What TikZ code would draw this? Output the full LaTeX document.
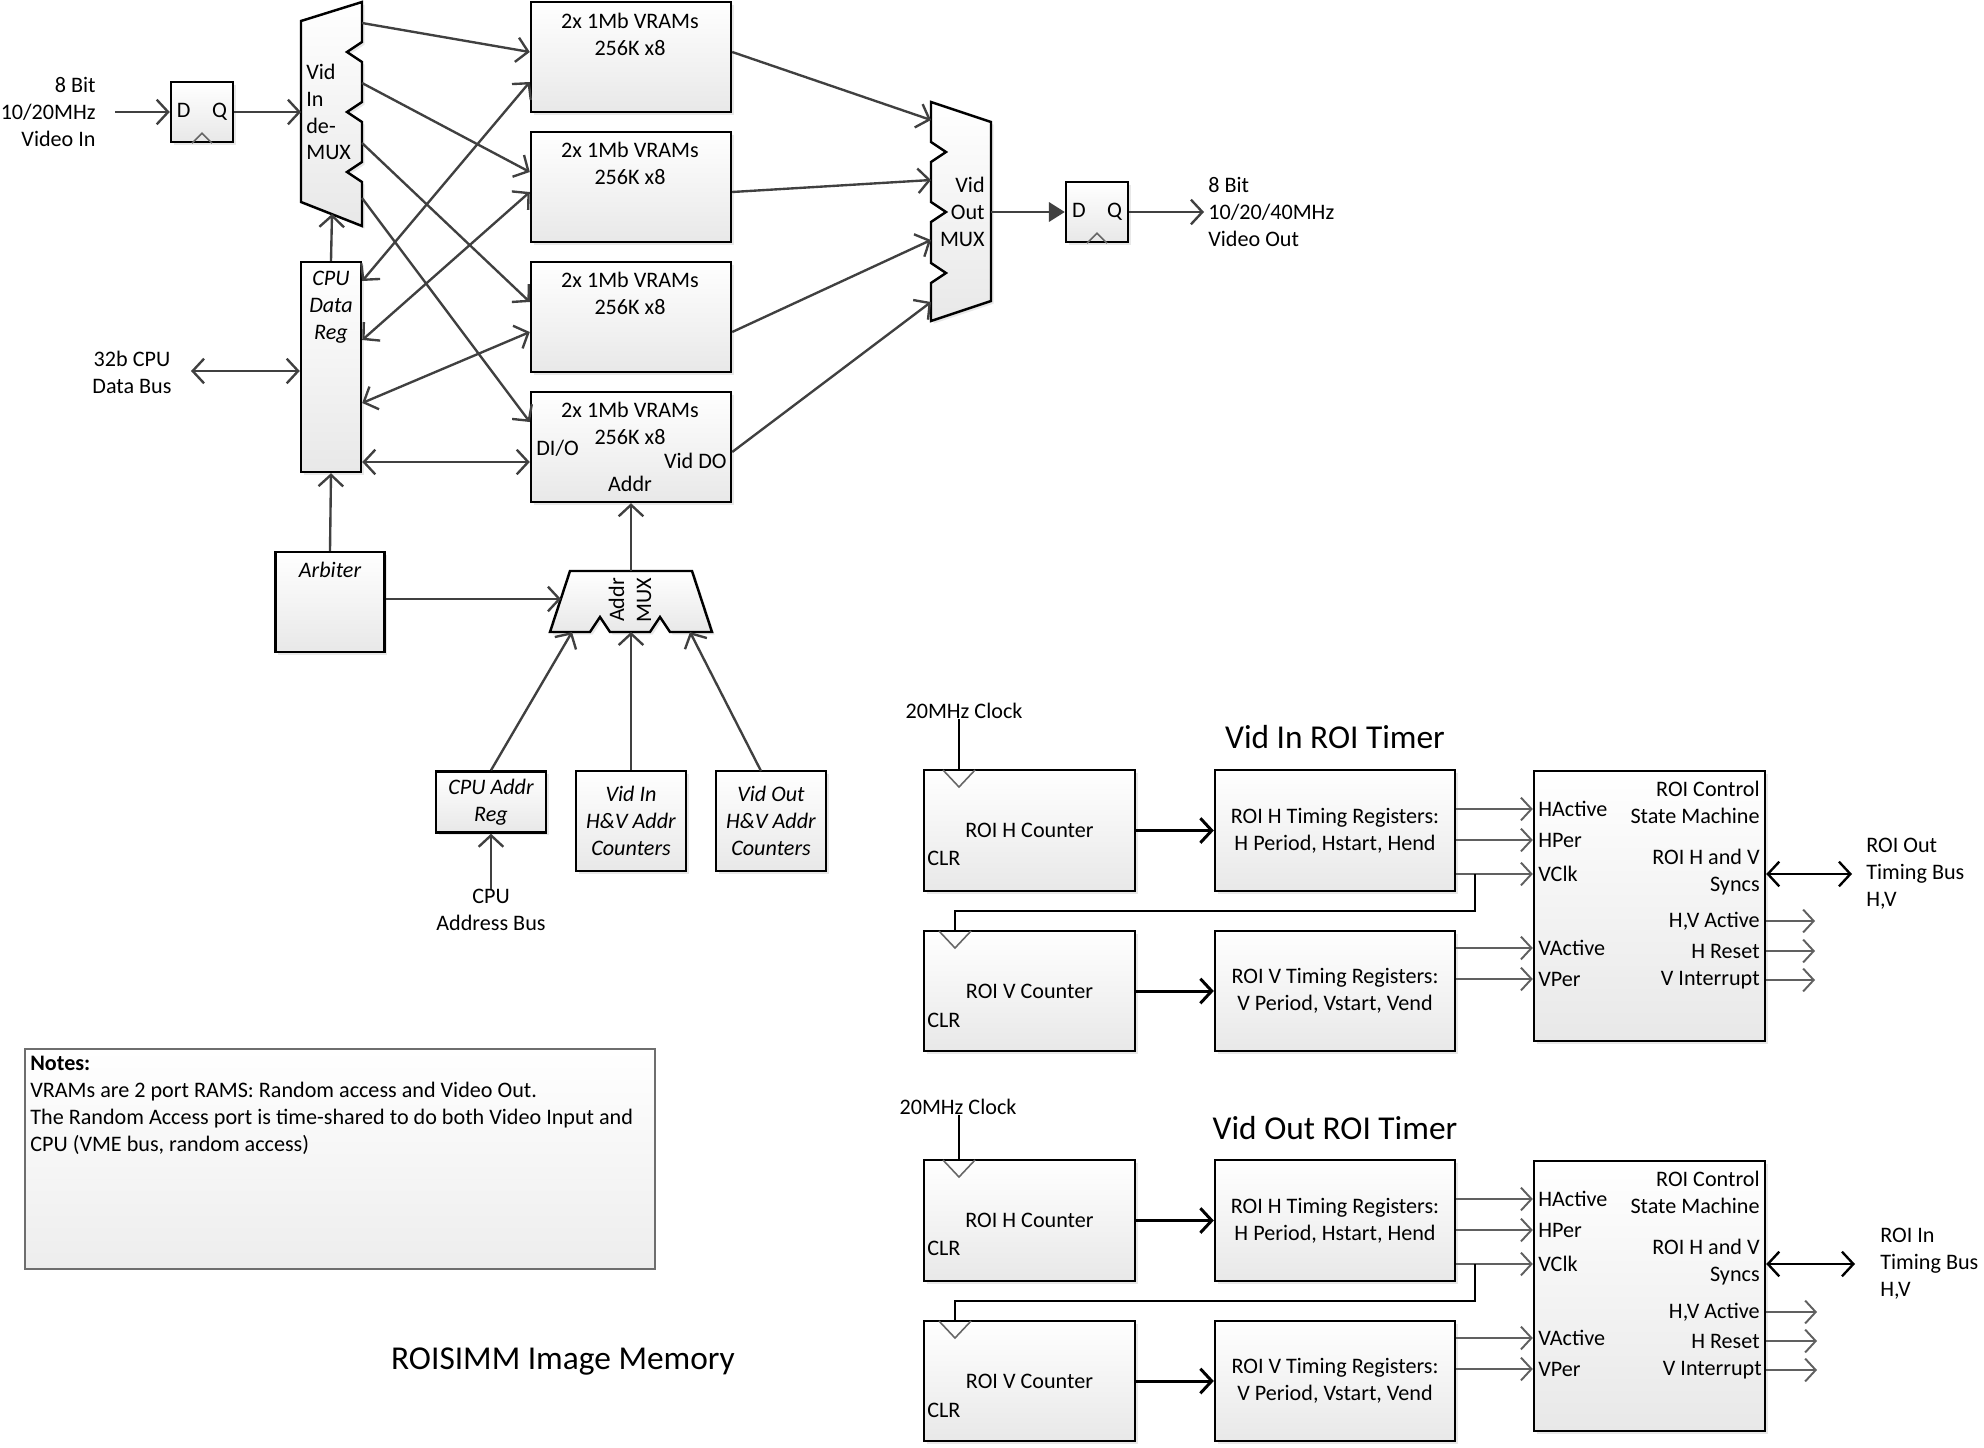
\documentclass[tikz,border=0pt]{standalone}
\usepackage{fontspec}
\setmainfont{Carlito}
\usetikzlibrary{arrows.meta, positioning, calc, shadows}
\definecolor{wiregray}{RGB}{64, 64, 64}
\definecolor{portgray}{RGB}{96, 96, 96}
\definecolor{notegray}{RGB}{110, 110, 110}

\begin{document}
\begin{tikzpicture}[
    x=0.02cm, y=-0.02cm,
    font=\fontsize{12.6}{15.3}\selectfont,
    blk/.style={rectangle, draw=black, line width=1.4pt, top color=white, bottom color=black!9,
                drop shadow={shadow xshift=1.5pt, shadow yshift=-1.5pt, opacity=0.18},
                inner sep=0pt, align=center},
    ff/.style={blk, minimum width=1.24cm, minimum height=1.2cm},
    mux/.style={draw=black, line width=1.4pt, line join=miter, top color=white, bottom color=black!9,
                drop shadow={shadow xshift=1.5pt, shadow yshift=-1.5pt, opacity=0.18}},
    notebox/.style={rectangle, draw=notegray, line width=0.8pt, top color=white, bottom color=black!7},
    lbl/.style={inner sep=0pt, align=center},
    itl/.style={font=\fontsize{12.6}{15.3}\selectfont\itshape},
    ttl/.style={inner sep=0pt, font=\fontsize{19}{22}\selectfont},
    wire/.style={draw=wiregray, line width=1.35pt, -{Straight Barb[length=6.5pt, width=14pt]}},
    bus/.style={draw=wiregray, line width=1.35pt,
                {Straight Barb[length=6.5pt, width=14pt]}-{Straight Barb[length=6.5pt, width=14pt]}},
    fat/.style={draw=black, line width=1.7pt, -{Straight Barb[length=6.5pt, width=14pt]}},
    port/.style={draw=portgray, line width=1.1pt, -{Straight Barb[length=6pt, width=13pt]}},
    fbline/.style={draw=black, line width=1.3pt},
    clkmark/.style={draw=black!60, line width=0.9pt}
]
\useasboundingbox (0,0) rectangle (1984,1447);

%% ── VIDEO INPUT ─────────────────────────────────────────────────────────────
\node[lbl, anchor=east, align=right] (vidin) at (96,112) {8 Bit\\10/20MHz\\Video In};
\coordinate (vinE) at (115,112);
\node[ff] (dff1) at (202,112) {D\hspace{0.43cm}Q};
\draw[clkmark] ($(dff1.south)+(-10,0)$) -- ($(dff1.south)+(0,-10)$) -- ($(dff1.south)+(10,0)$);

% de-MUX
\draw[mux] (301,21) -- (362,2) -- (362,42) -- (347,52) -- (362,62) -- (362,102) -- (347,112)
   -- (362,122) -- (362,162) -- (347,172) -- (362,182) -- (362,226) -- (301,202) -- cycle;
\node[lbl, anchor=west, align=left] (dmxtxt) at (306,112) {Vid\\In\\de-\\MUX};
\coordinate (dmxI)  at (301,112);
\coordinate (dmxO1) at (362,23);
\coordinate (dmxO2) at (362,83);
\coordinate (dmxO3) at (362,143);
\coordinate (dmxO4) at (362,198);
\coordinate (dmxB)  at (332,214);

%% ── VRAM BANKS ──────────────────────────────────────────────────────────────
\node[blk, minimum width=4cm, minimum height=2.2cm] (vram1) at (631,57)  {};
\node[blk, minimum width=4cm, minimum height=2.2cm] (vram2) at (631,187) {};
\node[blk, minimum width=4cm, minimum height=2.2cm] (vram3) at (631,317) {};
\node[blk, minimum width=4cm, minimum height=2.2cm] (vram4) at (631,447) {};
\node[lbl] (vram1t) at (630,34)  {2x 1Mb VRAMs\\256K x8};
\node[lbl] (vram2t) at (630,163) {2x 1Mb VRAMs\\256K x8};
\node[lbl] (vram3t) at (630,293) {2x 1Mb VRAMs\\256K x8};
\node[lbl] (vram4t) at (630,423) {2x 1Mb VRAMs\\256K x8};
\node[lbl, anchor=west] (dio)   at (536,448) {DI/O};
\node[lbl, anchor=east] (viddo) at (727,461) {Vid DO};
\node[lbl]              (vaddr) at (630,484) {Addr};

%% ── CPU SIDE ────────────────────────────────────────────────────────────────
\node[blk, minimum width=1.2cm, minimum height=4.2cm] (cpudata) at (331,367) {};
\node[itl, lbl] (cpudatat) at (331,307) {CPU\\Data\\Reg};
\node[lbl] (cpubus) at (132,372) {32b CPU\\Data Bus};
\coordinate (cpubusE) at (191,371);

\node[blk, minimum width=2.18cm, minimum height=2cm] (arb) at (330,602) {};
\node[itl, lbl] (arbt) at (330,570) {Arbiter};

% Addr MUX
\draw[mux] (570,571) -- (692,571) -- (712,632) -- (670,632) -- (660,617) -- (650,632) -- (610,632)
   -- (600,617) -- (590,632) -- (550,632) -- cycle;
\node[lbl, rotate=90] (amxt) at (630,600) {Addr\\MUX};
\coordinate (amxL)  at (561,599);
\coordinate (amxT)  at (631,571);
\coordinate (amxB1) at (572,632);
\coordinate (amxB2) at (631,632);
\coordinate (amxB3) at (690,632);

\node[blk, itl, minimum width=2.2cm, minimum height=1.22cm] (cpuaddr)    at (491,802) {CPU Addr\\Reg};
\node[blk, itl, minimum width=2.2cm, minimum height=2cm]    (vidinaddr)  at (631,821) {Vid In\\H\&V Addr\\Counters};
\node[blk, itl, minimum width=2.2cm, minimum height=2cm]    (vidoutaddr) at (771,821) {Vid Out\\H\&V Addr\\Counters};
\coordinate (voaT) at (761,771);
\node[lbl] (cpuabus) at (491,910) {CPU\\Address Bus};

%% ── VIDEO OUTPUT ────────────────────────────────────────────────────────────
\draw[mux] (931,102) -- (991,122) -- (991,301) -- (931,321) -- (931,283) -- (946,273) -- (931,263)
   -- (931,222) -- (946,212) -- (931,202) -- (931,162) -- (946,152) -- (931,142) -- cycle;
\node[lbl, anchor=east, align=right] (vomt) at (985,212) {Vid\\Out\\MUX};
\coordinate (vomI1) at (931,120);
\coordinate (vomI2) at (931,180);
\coordinate (vomI3) at (931,240);
\coordinate (vomI4) at (931,302);
\coordinate (vomO)  at (991,212);
\node[ff] (dff2) at (1097,212) {D\hspace{0.43cm}Q};
\draw[clkmark] ($(dff2.south)+(-10,0)$) -- ($(dff2.south)+(0,-10)$) -- ($(dff2.south)+(10,0)$);
\node[lbl, anchor=west, align=left, inner xsep=0.08cm] (vidout) at (1204,212) {8 Bit\\10/20/40MHz\\Video Out};

%% ── Connections ─────────────────────────────────────────────────────────────
\draw[wire] (vinE) -- (dff1.west);
\draw[wire] (dff1.east) -- (dmxI);
\draw[wire] (dmxO1) -- (vram1.west |- 0,52);
\draw[wire] (dmxO2) -- (vram2.west |- 0,172);
\draw[wire] (dmxO3) -- (vram3.west |- 0,302);
\draw[wire] (dmxO4) -- (vram4.west |- 0,422);

\draw[bus] (cpudata.east |- 0,281) -- (vram1.west |- 0,82);
\draw[bus] (cpudata.east |- 0,340) -- (vram2.west |- 0,192);
\draw[bus] (cpudata.east |- 0,403) -- (vram3.west |- 0,332);
\draw[bus] (cpudata.east |- 0,462) -- (vram4.west |- 0,462);
\draw[bus] (cpubusE) -- (cpudata.west |- cpubusE);
\draw[wire] (cpudata.north) -- (dmxB);
\draw[wire] (arb.north) -- (cpudata.south);

\draw[wire] (arb.east |- amxL) -- (amxL);
\draw[wire] (amxT) -- (vram4.south);
\draw[wire] (cpuaddr.north) -- (amxB1);
\draw[wire] (vidinaddr.north) -- (amxB2);
\draw[wire] (voaT) -- (amxB3);
\draw[wire] (cpuabus.north) -- (cpuaddr.south);

\draw[wire] (vram1.east |- 0,52)  -- (vomI1);
\draw[wire] (vram2.east |- 0,192) -- (vomI2);
\draw[wire] (vram3.east |- 0,332) -- (vomI3);
\draw[wire] (vram4.east |- 0,452) -- (vomI4);
\draw[wire, -{Triangle[length=9pt, width=11pt]}] (vomO) -- (dff2.west);
\draw[wire] (dff2.east) -- (vidout.west);

%% ── VID IN ROI TIMER ────────────────────────────────────────────────────────
\begin{scope}
\node[ttl] (ttl1) at (1335,737) {Vid In ROI Timer};
\node[lbl] (clk1) at (964,711) {20MHz Clock};
\node[blk, minimum width=4.22cm, minimum height=2.42cm] (hcnt1) at (1029.5,830.5) {ROI H Counter};
\node[lbl, anchor=west] (hclr1) at (927,858) {CLR};
\node[blk, minimum width=4.8cm, minimum height=2.42cm] (htim1) at (1335,830.5) {ROI H Timing Registers:\\H Period, Hstart, Hend};
\node[blk, minimum width=4.22cm, minimum height=2.4cm] (vcnt1) at (1029.5,991) {ROI V Counter};
\node[lbl, anchor=west] (vclr1) at (927,1020) {CLR};
\node[blk, minimum width=4.8cm, minimum height=2.4cm] (vtim1) at (1335,991) {ROI V Timing Registers:\\V Period, Vstart, Vend};
\node[blk, minimum width=4.62cm, minimum height=5.4cm] (sm1) at (1649.5,906) {};
\node[lbl, anchor=east, align=right] (smt1)   at (1760,802) {ROI Control\\State Machine};
\node[lbl, anchor=east, align=right] (sync1)  at (1760,872) {ROI H and V\\Syncs};
\node[lbl, anchor=east] (hva1)  at (1760,921) {H,V Active};
\node[lbl, anchor=east] (hrst1) at (1760,951) {H Reset};
\node[lbl, anchor=east] (vint1) at (1760,980) {V Interrupt};
\node[lbl, anchor=west] (hact1) at (1538,809) {HActive};
\node[lbl, anchor=west] (hper1) at (1538,840) {HPer};
\node[lbl, anchor=west] (vclk1) at (1538,874) {VClk};
\node[lbl, anchor=west] (vact1) at (1538,948) {VActive};
\node[lbl, anchor=west] (vper1) at (1538,979) {VPer};
\node[lbl, anchor=west, align=left, inner xsep=0.28cm] (roiout1) at (1852,874) {ROI Out\\Timing Bus\\H,V};
\coordinate (hck1) at (959,770);
\coordinate (vck1) at (955,931);
\coordinate (vj1)  at (1475,874);
\coordinate (oE1)  at (1815,0);

\draw[fbline] (clk1.south -| hck1) -- (hck1);
\draw[clkmark] ($(hck1)+(-16,0)$) -- ($(hck1)+(0,17)$) -- ($(hck1)+(16,0)$);
\draw[clkmark] ($(vck1)+(-16,0)$) -- ($(vck1)+(0,17)$) -- ($(vck1)+(16,0)$);
\draw[fat] (hcnt1) -- (htim1);
\draw[fat] (vcnt1) -- (vtim1);
\draw[port] (htim1.east |- hact1) -- (sm1.west |- hact1);
\draw[port] (htim1.east |- hper1) -- (sm1.west |- hper1);
\draw[port] (htim1.east |- vclk1) -- (sm1.west |- vclk1);
\draw[port] (vtim1.east |- vact1) -- (sm1.west |- vact1);
\draw[port] (vtim1.east |- vper1) -- (sm1.west |- vper1);
\draw[fbline] (vj1) |- ($(vck1)+(0,-20)$) -- (vck1);
\draw[port] (sm1.east |- hva1)  -- (oE1 |- hva1);
\draw[port] (sm1.east |- hrst1) -- (oE1 |- hrst1);
\draw[port] (sm1.east |- vint1) -- (oE1 |- vint1);
\draw[bus, draw=black] (sm1.east |- roiout1.west) -- (roiout1.west);
\end{scope}

%% ── VID OUT ROI TIMER ───────────────────────────────────────────────────────
\begin{scope}[shift={(0,390)}]
\node[ttl] (ttl2) at (1335,738) {Vid Out ROI Timer};
\node[lbl] (clk2) at (958,717) {20MHz Clock};
\node[blk, minimum width=4.22cm, minimum height=2.42cm] (hcnt2) at (1029.5,830.5) {ROI H Counter};
\node[lbl, anchor=west] (hclr2) at (927,858) {CLR};
\node[blk, minimum width=4.8cm, minimum height=2.42cm] (htim2) at (1335,830.5) {ROI H Timing Registers:\\H Period, Hstart, Hend};
\node[blk, minimum width=4.22cm, minimum height=2.4cm] (vcnt2) at (1029.5,991) {ROI V Counter};
\node[lbl, anchor=west] (vclr2) at (927,1020) {CLR};
\node[blk, minimum width=4.8cm, minimum height=2.4cm] (vtim2) at (1335,991) {ROI V Timing Registers:\\V Period, Vstart, Vend};
\node[blk, minimum width=4.62cm, minimum height=5.4cm] (sm2) at (1649.5,906) {};
\node[lbl, anchor=east, align=right] (smt2)   at (1760,802) {ROI Control\\State Machine};
\node[lbl, anchor=east, align=right] (sync2)  at (1760,872) {ROI H and V\\Syncs};
\node[lbl, anchor=east] (hva2)  at (1760,922) {H,V Active};
\node[lbl, anchor=east] (hrst2) at (1760,951) {H Reset};
\node[lbl, anchor=east] (vint2) at (1762,980) {V Interrupt};
\node[lbl, anchor=west] (hact2) at (1538,809) {HActive};
\node[lbl, anchor=west] (hper2) at (1538,840) {HPer};
\node[lbl, anchor=west] (vclk2) at (1538,874) {VClk};
\node[lbl, anchor=west] (vact2) at (1538,948) {VActive};
\node[lbl, anchor=west] (vper2) at (1538,979) {VPer};
\node[lbl, anchor=west, align=left, inner xsep=0.5cm] (roiin2) at (1855,874) {ROI In\\Timing Bus\\H,V};
\coordinate (hck2) at (959,770);
\coordinate (vck2) at (955,931);
\coordinate (vj2)  at (1475,874);
\coordinate (oE2)  at (1817,0);

\draw[fbline] (clk2.south -| hck2) -- (hck2);
\draw[clkmark] ($(hck2)+(-16,0)$) -- ($(hck2)+(0,17)$) -- ($(hck2)+(16,0)$);
\draw[clkmark] ($(vck2)+(-16,0)$) -- ($(vck2)+(0,17)$) -- ($(vck2)+(16,0)$);
\draw[fat] (hcnt2) -- (htim2);
\draw[fat] (vcnt2) -- (vtim2);
\draw[port] (htim2.east |- hact2) -- (sm2.west |- hact2);
\draw[port] (htim2.east |- hper2) -- (sm2.west |- hper2);
\draw[port] (htim2.east |- vclk2) -- (sm2.west |- vclk2);
\draw[port] (vtim2.east |- vact2) -- (sm2.west |- vact2);
\draw[port] (vtim2.east |- vper2) -- (sm2.west |- vper2);
\draw[fbline] (vj2) |- ($(vck2)+(0,-20)$) -- (vck2);
\draw[port] (sm2.east |- hva2)  -- (oE2 |- hva2);
\draw[port] (sm2.east |- hrst2) -- (oE2 |- hrst2);
\draw[port] (sm2.east |- vint2) -- (oE2 |- vint2);
\draw[bus, draw=black] (sm2.east |- roiin2.west) -- (roiin2.west);
\end{scope}

%% ── NOTES AND TITLE ─────────────────────────────────────────────────────────
\node[notebox, minimum width=12.6cm, minimum height=4.4cm] (notes) at (340,1159) {};
\node[lbl, anchor=north west, align=left] (notest) at (30,1056)
  {\textbf{Notes:}\\VRAMs are 2 port RAMS: Random access and Video Out.\\The Random Access port is time-shared to do both Video Input and\\CPU (VME bus, random access)};
\node[ttl] (maintitle) at (563,1362) {ROISIMM Image Memory};

\end{tikzpicture}
\end{document}
